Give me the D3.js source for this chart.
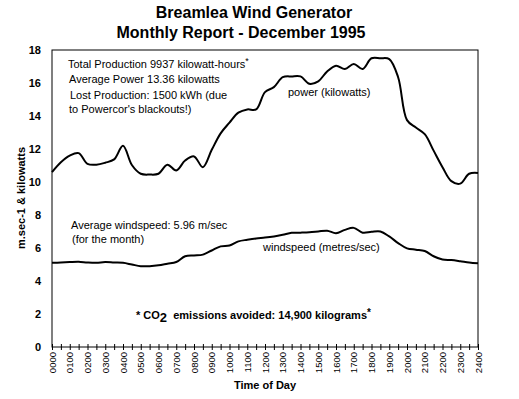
<!DOCTYPE html>
<html>
<head>
<meta charset="utf-8">
<script src="https://cdn.jsdelivr.net/npm/d3@7"></script>
<style>
  body { margin: 0; background: #fff; }
  svg text { font-family: "Liberation Sans", Arial, sans-serif; fill: #000; }
</style>
</head>
<body>
<div id="wrapper"></div>
<script>
// half-hourly readings, 0000 .. 2400
const hours = d3.range(0, 24.5, 0.5);
const power = [10.6, 11.2, 11.6, 11.75, 11.1, 11.05, 11.17, 11.37, 12.2, 11.03,
  10.5, 10.45, 10.5, 11.05, 10.7, 11.3, 11.55, 10.9, 11.95, 12.95,
  13.6, 14.2, 14.4, 14.4, 15.45, 15.75, 16.35, 16.4, 16.4, 15.95,
  16.1, 16.7, 17.05, 16.85, 17.15, 16.85, 17.5, 17.5, 17.45, 16.35,
  13.75, 13.3, 12.9, 11.9, 10.9, 10.05, 9.9, 10.5, 10.55];
const windspeed = [5.1, 5.12, 5.15, 5.17, 5.12, 5.1, 5.15, 5.12, 5.1, 5.0,
  4.9, 4.9, 4.95, 5.05, 5.15, 5.5, 5.55, 5.6, 5.85, 6.1,
  6.15, 6.4, 6.5, 6.58, 6.63, 6.7, 6.8, 6.92, 6.93, 6.95,
  7.0, 7.05, 6.9, 7.1, 7.22, 6.93, 6.98, 7.0, 6.7, 6.3,
  5.98, 5.9, 5.82, 5.5, 5.3, 5.27, 5.2, 5.12, 5.07];
const yTicks = [0, 2, 4, 6, 8, 10, 12, 14, 16, 18];
const xTickLabels = d3.range(0, 25).map(h => d3.format("02")(h) + "00");

const dimension = {
  width: 519,
  height: 399,
  margin: { top: 50, left: 52, bottom: 52, right: 41 }
};
dimension.boundedWidth = dimension.width - dimension.margin.left - dimension.margin.right;
dimension.boundedHeight = dimension.height - dimension.margin.top - dimension.margin.bottom;

const svg = d3.select("#wrapper").append("svg")
  .attr("width", dimension.width)
  .attr("height", dimension.height);

const bounded = svg.append("g")
  .attr("transform", `translate(${dimension.margin.left},${dimension.margin.top})`);

const xScale = d3.scaleLinear().domain([0, 24]).range([0, dimension.boundedWidth]);
const yScale = d3.scaleLinear().domain([0, 18]).range([dimension.boundedHeight, 0]);

// plot frame
bounded.append("rect")
  .attr("width", dimension.boundedWidth)
  .attr("height", dimension.boundedHeight)
  .attr("fill", "none")
  .attr("stroke", "#000")
  .attr("stroke-width", 1);

const lineGen = d3.line()
  .x((d, i) => xScale(hours[i]))
  .y((d) => yScale(d))
  .curve(d3.curveCatmullRom.alpha(0.5));

bounded.append("path")
  .attr("d", lineGen(power))
  .attr("fill", "none").attr("stroke", "#000").attr("stroke-width", 2);

bounded.append("path")
  .attr("d", lineGen(windspeed))
  .attr("fill", "none").attr("stroke", "#000").attr("stroke-width", 2);

// y axis labels (no ticks)
const yAxis = bounded.append("g")
  .call(d3.axisLeft(yScale).tickValues(yTicks).tickSize(0).tickPadding(11));
yAxis.select(".domain").remove();
yAxis.selectAll("text")
  .style("font-size", "11px").style("font-weight", "bold")
  .style("font-family", "'Liberation Sans', Arial, sans-serif");

// x axis: cross ticks every half hour
const xAxisG = bounded.append("g")
  .attr("transform", `translate(0,${dimension.boundedHeight})`);
xAxisG.call(d3.axisBottom(xScale).tickValues(hours).tickSize(3).tickFormat(""));
xAxisG.select(".domain").remove();
xAxisG.selectAll(".tick line").attr("y1", -3).attr("y2", 3);

xAxisG.selectAll(".hourLabel")
  .data(xTickLabels)
  .join("text")
  .attr("class", "hourLabel")
  .attr("transform", (d, i) => `translate(${xScale(i) + 3.5},5) rotate(-90)`)
  .attr("text-anchor", "end")
  .style("font-size", "9.5px")
  .text(d => d);

svg.append("text")
  .attr("x", 265).attr("y", 389)
  .attr("text-anchor", "middle")
  .style("font-size", "11px").style("font-weight", "bold")
  .text("Time of Day");

svg.append("text")
  .attr("transform", "translate(25,198) rotate(-90)")
  .attr("text-anchor", "middle")
  .style("font-size", "11px").style("font-weight", "bold")
  .text("m.sec-1 & kilowatts");

// titles
svg.append("text")
  .attr("x", 254).attr("y", 18)
  .attr("text-anchor", "middle")
  .style("font-size", "16px").style("font-weight", "bold")
  .text("Breamlea Wind Generator");
svg.append("text")
  .attr("x", 241).attr("y", 38)
  .attr("text-anchor", "middle")
  .style("font-size", "16px").style("font-weight", "bold")
  .text("Monthly Report - December 1995");

// annotations
const note = (x, y, t) => svg.append("text")
  .attr("x", x).attr("y", y)
  .style("font-size", "11px")
  .text(t);

const tp = note(68, 68, "Total Production 9937 kilowatt-hours");
tp.append("tspan").attr("dy", -4).style("font-size", "9px").text("*");
note(69, 83, "Average Power 13.36 kilowatts");
note(70, 99, "Lost Production: 1500 kWh (due");
note(69, 113, "to Powercor's blackouts!)");
note(288, 96, "power (kilowatts)");
note(71, 229, "Average windspeed: 5.96 m/sec");
note(72, 243, "(for the month)");
note(263, 251, "windspeed (metres/sec)");

const co2 = svg.append("text")
  .attr("x", 136).attr("y", 319)
  .style("font-size", "11px").style("font-weight", "bold");
co2.append("tspan").text("* CO");
co2.append("tspan").attr("dy", 3).style("font-size", "13px").text("2");
co2.append("tspan").attr("dy", -3).text("\u00a0 emissions avoided: 14,900 kilograms");
co2.append("tspan").attr("dy", -3).style("font-size", "10px").text("*");
</script>
</body>
</html>
